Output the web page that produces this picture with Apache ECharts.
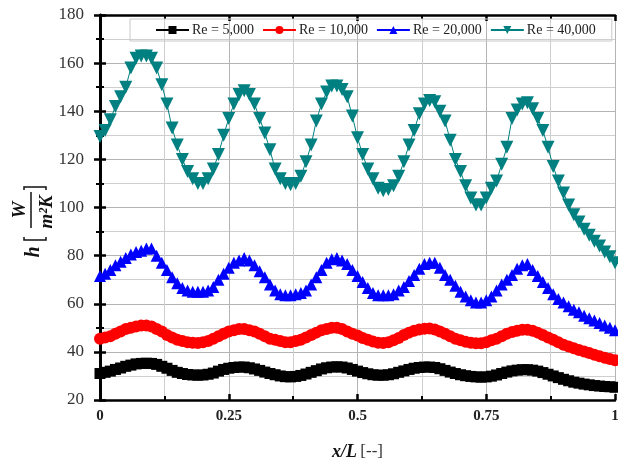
<!DOCTYPE html>
<html>
<head>
<meta charset="utf-8">
<script src="https://cdn.jsdelivr.net/npm/echarts@6/dist/echarts.min.js"></script>
<style>html,body{margin:0;padding:0;background:#fff;}#chart{width:618px;height:462px;}</style>
</head>
<body>
<div id="chart"></div>
<script>
// x/L positions
var xPos = [0,0.01,0.02,0.03,0.04,0.05,0.06,0.07,0.08,0.09,0.1,0.11,0.12,0.13,0.14,0.15,0.16,0.17,0.18,0.19,0.2,0.21,0.22,0.23,0.24,0.25,0.26,0.27,0.28,0.29,0.3,0.31,0.32,0.33,0.34,0.35,0.36,0.37,0.38,0.39,0.4,0.41,0.42,0.43,0.44,0.45,0.46,0.47,0.48,0.49,0.5,0.51,0.52,0.53,0.54,0.55,0.56,0.57,0.58,0.59,0.6,0.61,0.62,0.63,0.64,0.65,0.66,0.67,0.68,0.69,0.7,0.71,0.72,0.73,0.74,0.75,0.76,0.77,0.78,0.79,0.8,0.81,0.82,0.83,0.84,0.85,0.86,0.87,0.88,0.89,0.9,0.91,0.92,0.93,0.94,0.95,0.96,0.97,0.98,0.99,1];

var seriesNames = ['Re = 5,000', 'Re = 10,000', 'Re = 20,000', 'Re = 40,000'];

var re5000 = [31,31.5,32,32.7,33.3,34,34.5,35,35.2,35.3,35.2,34.8,34,33.2,32.3,31.5,31,30.6,30.4,30.3,30.4,30.7,31.2,32,32.7,33.2,33.5,33.7,33.7,33.4,32.9,32.3,31.6,31,30.5,30,29.7,29.6,29.8,30.2,30.8,31.5,32.2,32.9,33.4,33.7,33.8,33.7,33.3,32.7,32,31.4,30.9,30.5,30.3,30.3,30.5,30.9,31.5,32.1,32.7,33.2,33.5,33.7,33.7,33.5,33,32.3,31.6,31,30.5,30.1,29.8,29.6,29.5,29.6,29.9,30.4,31,31.6,32.1,32.4,32.6,32.6,32.4,32,31.4,30.7,30,29.3,28.6,28,27.4,27,26.6,26.3,26,25.8,25.6,25.5,25.3];

var re10000 = [45.5,46,46.5,47.5,48.5,49.5,50,50.5,51,51,50.5,49.5,48.5,47,46,45,44.5,44,43.8,43.7,44,44.5,45.5,46.5,47.5,48.5,49,49.5,49.5,49,48.5,47.5,46.5,45.5,45,44.5,44,44,44.5,45,46,47,48,49,49.5,50,50,49.5,48.5,47.5,46.8,45.8,45,44.3,43.8,43.7,44,44.8,45.8,47,48,48.8,49.3,49.6,49.7,49.3,48.5,47.5,46.5,45.5,44.8,44.2,43.8,43.6,43.6,44,44.8,45.5,46.5,47.5,48.3,48.8,49.2,49.2,48.8,48,47,46,45,44,43,42.2,41.5,40.8,40.2,39.5,38.8,38.2,37.6,37,36.5];

var re20000 = [71.5,72.5,74,76,77.5,79,80.5,81.5,82,83,83,80,77,74,71,68.5,66.5,65.5,65,65,65,65.5,67,70,72.5,75,77,78,79,78,76,73.5,71,68,65.5,64,63.5,63.5,64,64.5,65.5,68,71,74,77,78.5,79,78,76.5,74,71.5,69,66.5,64.5,63.5,63.5,63.5,64,65.5,67,69.5,72,74.5,76.5,77,77,75,72,70,67.5,65,63,61.5,60.5,60.5,61.5,63,65.5,68,70,72,74.5,76,76.5,74,71.5,69,66.5,64,62,60.5,59,57.5,56.5,55,54,53,52,51,50,49];

var re40000 = [129.5,132,136.5,142,146,150,158,162,163,163,162,158,151,143,133,126,120,115,112,110,110,112,116,122,130,137,143,147,148.5,147,143,137,131,124,116,112,110,109.5,110,113,119,126,136,143,148,150.5,150.5,149,146,138,129,122,116,112,108,107,107.5,109,113,119,126,132,139,143,144.5,144,140,136,128,120,115,109,104,101,101,104,108,111,118,125,137,140.5,143,143.5,141,137,132,125,117,111,106,101,97,94,91,88.5,86,84,81.5,79.5,77];

var xTicks = [0, 0.25, 0.5, 0.75, 1];
var yTicks = [20, 40, 60, 80, 100, 120, 140, 160, 180];

function pairs(vals) { return vals.map(function (v, i) { return [xPos[i], v]; }); }

var chart = echarts.init(document.getElementById('chart'), null, {renderer: 'canvas'});
var serif = '"Liberation Serif", "DejaVu Serif", serif';
var gridCol = '#b4b4b4';
var frameAxisCommon = {
  type: 'value',
  axisLine: {show: true, lineStyle: {color: '#000', width: 2.5}},
  axisTick: {show: true, inside: true, length: 6, lineStyle: {color: '#000', width: 2.5}},
  minorTick: {show: true, splitNumber: 2, length: 4, lineStyle: {color: '#000', width: 2}},
  axisLabel: {show: false},
  splitLine: {show: false}
};

var option = {
  animation: false,
  backgroundColor: '#fff',
  grid: {left: 100, right: 3, top: 15, bottom: 62, containLabel: false, outerBoundsMode: 'none'},
  legend: {
    left: 130, top: 19,
    data: seriesNames,
    itemWidth: 33, itemHeight: 10, itemGap: 8,
    padding: [4, 16, 4, 25],
    borderColor: '#c8c8c8', borderWidth: 1,
    textStyle: {fontFamily: serif, fontSize: 14, color: '#222', padding: [0, 0, 0, -2]}
  },
  xAxis: [
    {
      type: 'value', min: xTicks[0], max: xTicks[xTicks.length - 1], interval: 0.25,
      position: 'bottom',
      name: '{a|x/L} {b|[--]}', nameLocation: 'middle', nameGap: 43,
      nameTextStyle: {rich: {
        a: {fontFamily: serif, fontSize: 18, fontStyle: 'italic', fontWeight: 'bold', color: '#111'},
        b: {fontFamily: serif, fontSize: 17, color: '#333'}
      }},
      axisLine: {show: true, lineStyle: {color: '#000', width: 2.5}},
      axisTick: {show: true, inside: true, length: 6, lineStyle: {color: '#000', width: 2.5}},
      minorTick: {show: true, splitNumber: 2, length: 4, lineStyle: {color: '#000', width: 2}},
      axisLabel: {fontFamily: serif, fontSize: 15, fontWeight: 'bold', color: '#222', margin: 9},
      splitLine: {show: true, lineStyle: {color: gridCol, width: 1}},
      minorSplitLine: {show: true, lineStyle: {color: '#cfcfcf', width: 1}}
    },
    Object.assign({}, frameAxisCommon, {min: 0, max: 1, interval: 0.25, position: 'top'})
  ],
  yAxis: [
    {
      type: 'value', min: yTicks[0], max: yTicks[yTicks.length - 1], interval: 20,
      position: 'left',
      axisLine: {show: true, lineStyle: {color: '#000', width: 3}},
      axisTick: {show: true, inside: true, length: 6, lineStyle: {color: '#000', width: 2.5}},
      minorTick: {show: true, splitNumber: 2, length: 4, lineStyle: {color: '#000', width: 2}},
      axisLabel: {fontFamily: serif, fontSize: 17, color: '#333', margin: 16},
      splitLine: {show: true, lineStyle: {color: gridCol, width: 1}},
      minorSplitLine: {show: true, lineStyle: {color: '#cfcfcf', width: 1}}
    },
    Object.assign({}, frameAxisCommon, {min: 20, max: 180, interval: 20, position: 'right'})
  ],
  series: [
    {name: seriesNames[0], type: 'line', data: pairs(re5000), symbol: 'rect', symbolSize: 11,
     itemStyle: {color: '#000'}, lineStyle: {color: '#000', width: 1}, z: 3},
    {name: seriesNames[1], type: 'line', data: pairs(re10000), symbol: 'circle', symbolSize: 12,
     itemStyle: {color: '#ff0000'}, lineStyle: {color: '#ff0000', width: 1}, z: 3},
    {name: seriesNames[2], type: 'line', data: pairs(re20000), symbol: 'triangle', symbolSize: 12,
     itemStyle: {color: '#0000ff'}, lineStyle: {color: '#0000ff', width: 1}, z: 3},
    {name: seriesNames[3], type: 'line', data: pairs(re40000), symbol: 'triangle', symbolRotate: 180, symbolSize: 13,
     itemStyle: {color: '#008080'}, lineStyle: {color: '#008080', width: 1}, z: 4}
  ],
  graphic: [
    {
      type: 'group', x: 32, y: 210, rotation: Math.PI / 2,
      children: [
        {type: 'text', style: {text: 'h', x: -42, y: 2, align: 'center', verticalAlign: 'middle',
          font: 'italic bold 20px ' + serif, fill: '#111'}},
        {type: 'polyline', shape: {points: [[-27, -8], [-30, -8], [-30, 14], [-27, 14]]},
          style: {stroke: '#111', lineWidth: 1.5, fill: null}},
        {type: 'text', style: {text: 'W', x: 0, y: -12, align: 'center', verticalAlign: 'middle',
          font: 'italic bold 19px ' + serif, fill: '#111'}},
        {type: 'line', shape: {x1: -18, y1: -1, x2: 18, y2: -1}, style: {stroke: '#111', lineWidth: 1.5}},
        {type: 'text', style: {text: 'm\u00b2K', x: -2, y: 15, align: 'center', verticalAlign: 'middle',
          font: 'italic bold 19px ' + serif, fill: '#111'}},
        {type: 'polyline', shape: {points: [[20, -8], [23, -8], [23, 14], [20, 14]]},
          style: {stroke: '#111', lineWidth: 1.5, fill: null}}
      ]
    }
  ]
};
chart.setOption(option);
</script>
</body>
</html>
